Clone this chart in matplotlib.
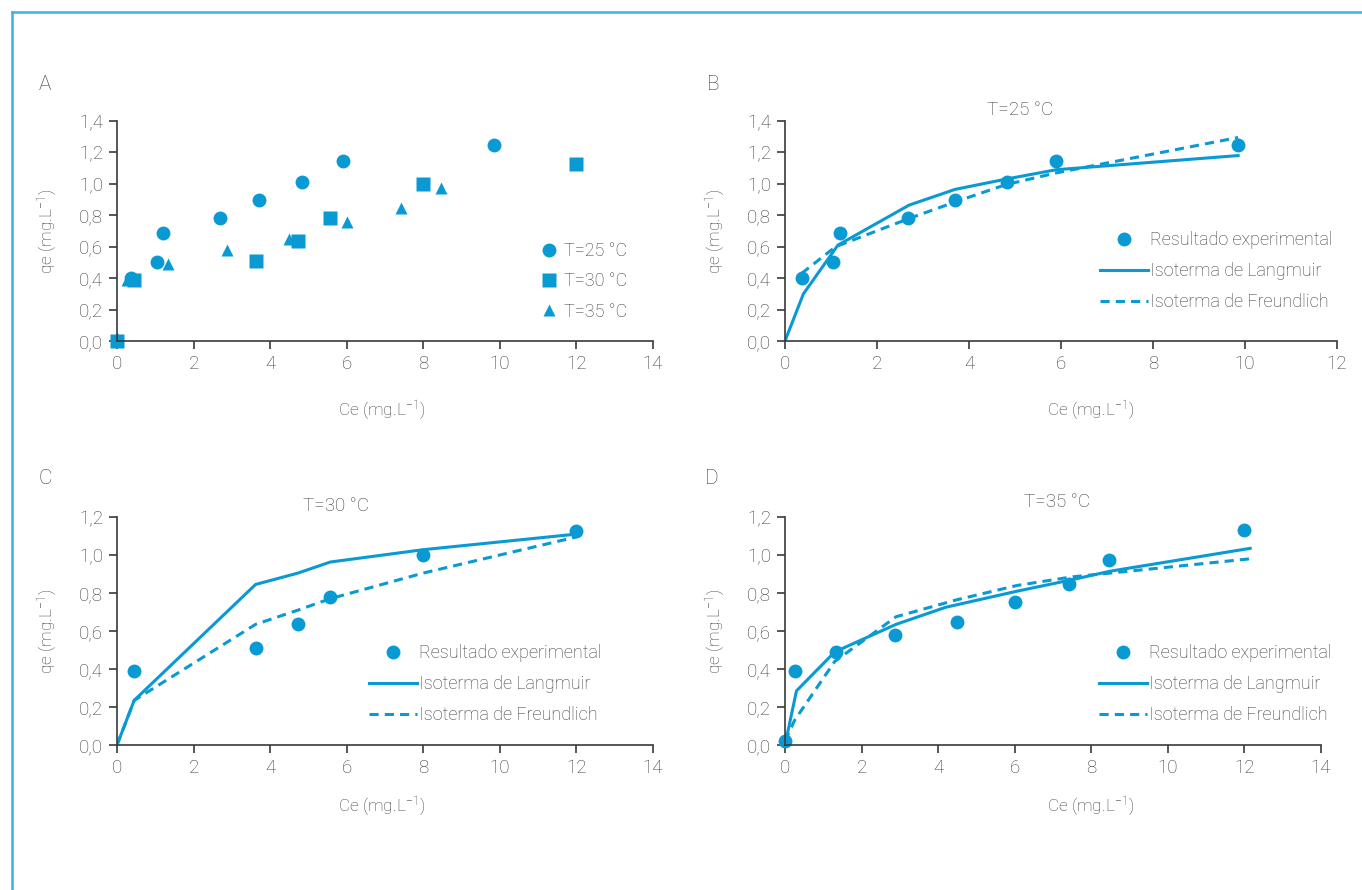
import matplotlib
matplotlib.use('Agg')
import matplotlib.pyplot as plt
from matplotlib.lines import Line2D
from matplotlib.ticker import FuncFormatter

plt.rcParams['font.family'] = ['Roboto', 'DejaVu Sans']
plt.rcParams['font.weight'] = 'light'
plt.rcParams['axes.labelweight'] = 'light'
plt.rcParams['mathtext.fontset'] = 'custom'
plt.rcParams['mathtext.rm'] = 'Roboto:light'
plt.rcParams['mathtext.default'] = 'rm'

BLUE = '#0a9ad3'
GREY = '#3a3a3a'
TXT = '#3c3c3c'

# 25 °C
ce_25 = [0.36, 1.05, 1.2, 2.68, 3.7, 4.82, 5.9, 9.85]
qe_25 = [0.40, 0.50, 0.685, 0.78, 0.895, 1.015, 1.145, 1.25]
lang25_x = [0, 0.4, 1.15, 2.7, 3.7, 4.8, 5.9, 9.85]
lang25_y = [0, 0.30, 0.61, 0.865, 0.965, 1.03, 1.09, 1.18]
freu25_x = [0.36, 1.1, 2.7, 3.7, 4.8, 5.9, 9.85]
freu25_y = [0.43, 0.60, 0.78, 0.885, 0.995, 1.07, 1.295]

# 30 °C
ce_30 = [0, 0.45, 3.62, 4.73, 5.57, 8.0, 12.0]
qe_30 = [0, 0.39, 0.51, 0.635, 0.78, 1.00, 1.125]
lang30_y = [0, 0.235, 0.845, 0.905, 0.963, 1.028, 1.11]
freu30_y = [0, 0.235, 0.635, 0.71, 0.77, 0.905, 1.095]

# 35 °C
ce_35 = [0, 0.27, 1.33, 2.88, 4.48, 6.0, 7.41, 8.45, 12.0]
qe_35 = [0.02, 0.39, 0.49, 0.58, 0.65, 0.755, 0.845, 0.975, 1.13]
lang35_x = [0, 0.3, 1.3, 2.9, 4.2, 6.07, 7.5, 8.5, 12.15]
lang35_y = [0, 0.285, 0.49, 0.635, 0.725, 0.81, 0.87, 0.915, 1.035]
freu35_x = [0, 0.25, 1.3, 2.9, 4.5, 6.07, 7.5, 8.5, 12.15]
freu35_y = [0.02, 0.13, 0.44, 0.675, 0.765, 0.84, 0.885, 0.905, 0.98]

W, H = 1362, 890
fig = plt.figure(figsize=(W / 100, H / 100), dpi=100)

# thin frame around the figure
fig.add_artist(Line2D([12 / W, 1], [1 - 12 / H, 1 - 12 / H], color='#3bb3e0', lw=1.8))
fig.add_artist(Line2D([12 / W, 12 / W], [0, 1 - 12 / H], color='#3bb3e0', lw=1.8))

comma = FuncFormatter(lambda v, p: ('%.1f' % v).replace('.', ','))


def px_axes(x0, y0, x1, y1):
    return fig.add_axes([x0 / W, 1 - y0 / H, (x1 - x0) / W, (y0 - y1) / H])


def style(ax, xmax, ymax, xlab_pos, xlab_y):
    ax.set_xlim(0, xmax)
    ax.set_ylim(0, ymax)
    ax.set_xticks(range(0, xmax + 1, 2))
    ax.set_yticks([i * 0.2 for i in range(int(round(ymax / 0.2)) + 1)])
    ax.yaxis.set_major_formatter(comma)
    for s in ('top', 'right'):
        ax.spines[s].set_visible(False)
    for s in ('left', 'bottom'):
        ax.spines[s].set_color(GREY)
        ax.spines[s].set_linewidth(1.2)
    ax.tick_params(direction='out', length=6, width=1.2, color=GREY,
                   labelcolor=TXT, labelsize=13.5, pad=4)
    ax.set_xlabel('Ce (mg.L$^{-1}$)', fontsize=12.5, color=TXT,
                  fontweight='light')
    ax.xaxis.set_label_coords(xlab_pos, xlab_y)
    ax.set_ylabel('qe (mg.L$^{-1}$)', fontsize=12.5, color=TXT, labelpad=14,
                  fontweight='light')
    for lb in ax.get_xticklabels() + ax.get_yticklabels():
        lb.set_fontweight('light')


def fit_panel(ax, ce, qe, lx, ly, fx, fy, leg_xy):
    ax.plot(ce, qe, 'o', color=BLUE, ms=10, mec='none', clip_on=False,
            label='Resultado experimental')
    ax.plot(lx, ly, '-', color=BLUE, lw=2.2, label='Isoterma de Langmuir')
    ax.plot(fx, fy, '--', color=BLUE, lw=2.2, dashes=(3, 2),
            label='Isoterma de Freundlich')
    ax.legend(loc='upper left', bbox_to_anchor=(leg_xy[0] / W, 1 - leg_xy[1] / H),
              bbox_transform=fig.transFigure, frameon=False, fontsize=13,
              borderpad=0, handlelength=2.65, handletextpad=0.1,
              labelspacing=0.72, labelcolor=TXT)


# A
axA = px_axes(117, 341, 653, 121)
style(axA, 14, 1.4, 0.493, -0.265)
axA.plot(ce_25, qe_25, 'o', color=BLUE, ms=10, mec='none', clip_on=False, label='T=25 °C')
axA.plot(ce_30, qe_30, 's', color=BLUE, ms=10, mec='none', clip_on=False, label='T=30 °C')
axA.plot(ce_35, qe_35, '^', color=BLUE, ms=9, mec='none', clip_on=False, label='T=35 °C')
axA.legend(loc='upper left', bbox_to_anchor=(530 / W, 1 - 233 / H),
           bbox_transform=fig.transFigure, frameon=False, fontsize=13,
           borderpad=0, handlelength=1.1, handletextpad=0.3,
           labelspacing=0.68, labelcolor=TXT)

# B
axB = px_axes(785, 341, 1337, 121)
style(axB, 12, 1.4, 0.554, -0.265)
fit_panel(axB, ce_25, qe_25, lang25_x, lang25_y, freu25_x, freu25_y, (1091, 222))

# C  (the origin of the 30 °C series is only plotted in panel A)
axC = px_axes(117, 745, 653, 517)
style(axC, 14, 1.2, 0.493, -0.22)
fit_panel(axC, ce_30[1:], qe_30[1:], ce_30, lang30_y, ce_30, freu30_y, (360, 635))

# D
axD = px_axes(785, 745, 1321, 517)
style(axD, 14, 1.2, 0.571, -0.22)
fit_panel(axD, ce_35, qe_35, lang35_x, lang35_y, freu35_x, freu35_y, (1090, 635))

# panel letters and titles
for lab, x, y in [('A', 45, 85), ('B', 713, 85), ('C', 45, 478), ('D', 712, 478)]:
    fig.text(x / W, 1 - y / H, lab, fontsize=15, color=TXT, ha='center', va='center')
for t, x, y in [('T=25 °C', 1020, 110), ('T=30 °C', 336, 506), ('T=35 °C', 1057, 502)]:
    fig.text(x / W, 1 - y / H, t, fontsize=13.5, color=TXT, ha='center', va='center')

fig.savefig('out.png', dpi=100)
